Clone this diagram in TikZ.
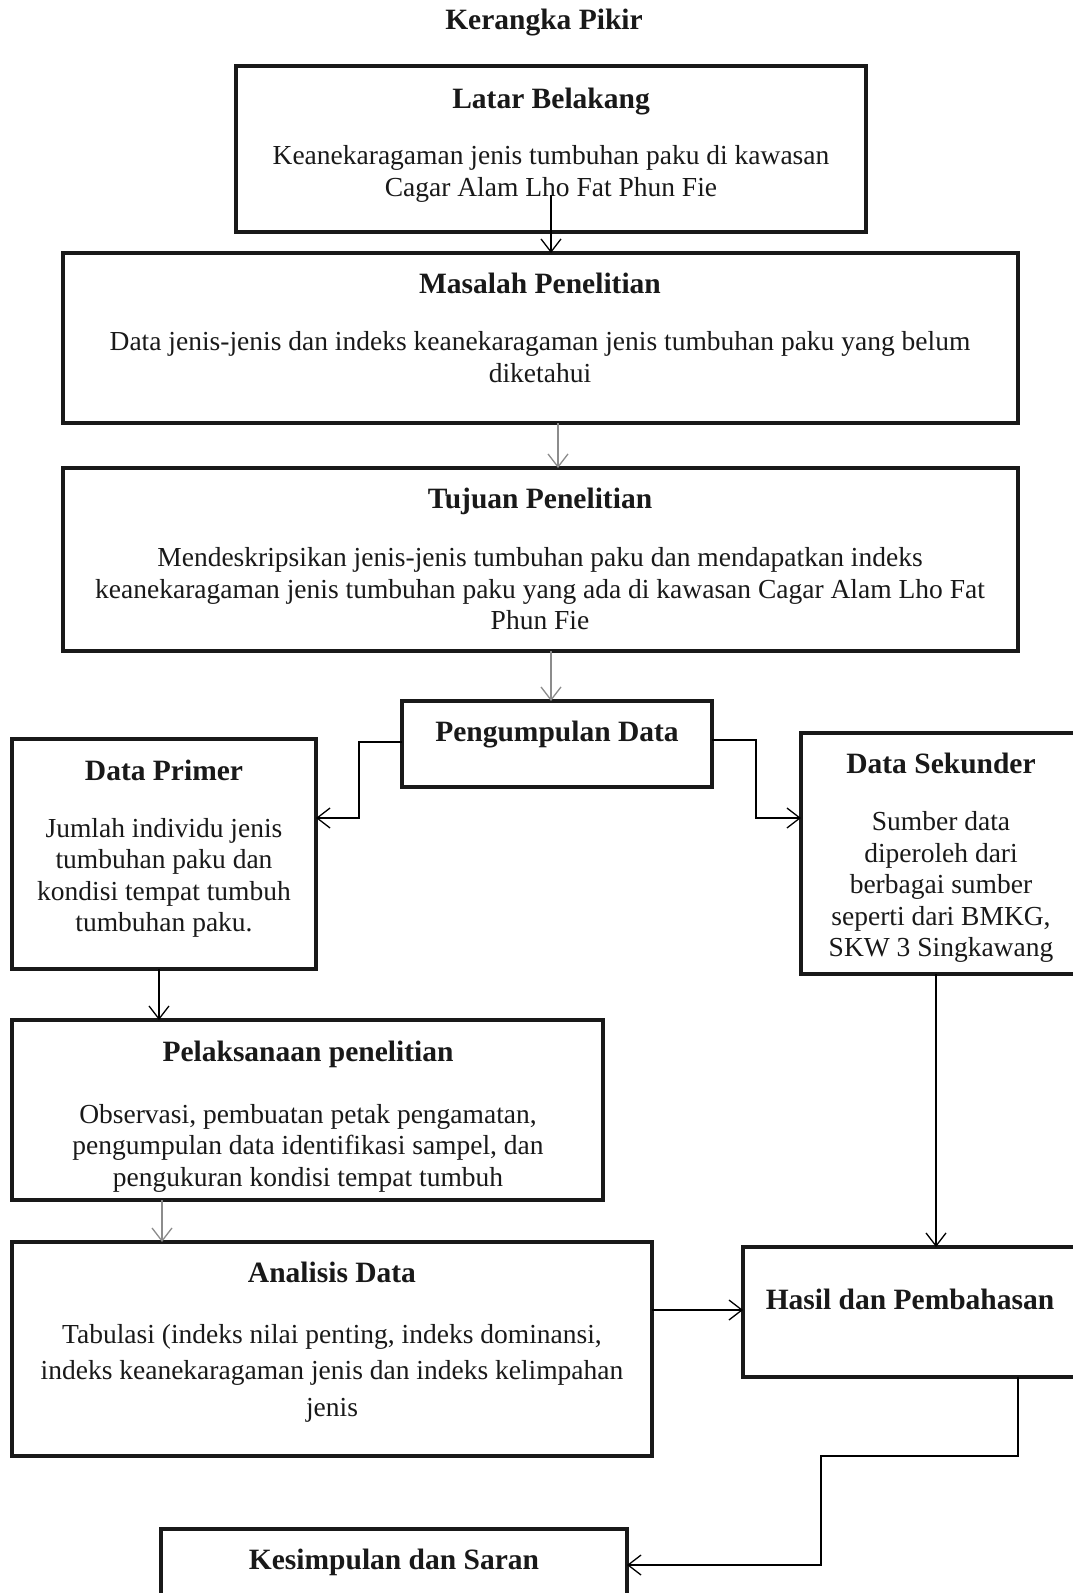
\documentclass[tikz,border=0pt]{standalone}
\usepackage{fontspec}
\setmainfont{Liberation Serif}
\usetikzlibrary{arrows.meta}
\tikzset{
  box/.style={draw=black!90, line width=4pt, rectangle, anchor=north west, inner sep=0pt, outer sep=0pt},
  hd/.style={font=\fontsize{29.5}{33}\selectfont\bfseries, inner sep=0pt, text=black!90},
  bd/.style={font=\fontsize{27.5}{31.5}\selectfont, inner sep=0pt, align=center, text=black!90},
  arr/.style={line width=1.3pt, -{Straight Barb[length=13pt,width=20pt,line width=1.3pt]}},
  garr/.style={arr, draw=black!45},
}
\begin{document}
\begin{tikzpicture}[x=1pt,y=-1pt]
\useasboundingbox (0,0) rectangle (1073,1593);
\clip (0,0) rectangle (1073,1593);
\fill[white] (0,0) rectangle (1073,1593);

\node[hd] (title) at (544,23) {Kerangka Pikir};

% boxes
\node[box, minimum width=630, minimum height=166] (latar) at (236,66) {};
\node[box, minimum width=955, minimum height=170] (masalah) at (63,253) {};
\node[box, minimum width=955, minimum height=183] (tujuan) at (63,468) {};
\node[box, minimum width=310, minimum height=86] (peng) at (402,701) {};
\node[box, minimum width=304, minimum height=230] (primer) at (12,739) {};
\node[box, minimum width=282, minimum height=241] (sekunder) at (801,733) {};
\node[box, minimum width=591, minimum height=180] (pelaks) at (12,1020) {};
\node[box, minimum width=640, minimum height=214] (analisis) at (12,1242) {};
\node[box, minimum width=336, minimum height=130] (hasil) at (743,1247) {};
\node[box, minimum width=466, minimum height=100] (kesimp) at (161,1529) {};

% texts
\node[hd] (latarH) at (551,102) {Latar Belakang};
\node[bd] (latarB) at (551,174) {Keanekaragaman jenis tumbuhan paku di kawasan\\Cagar Alam Lho Fat Phun Fie};

\node[hd] (masalahH) at (540,283) {Masalah Penelitian};
\node[bd] (masalahB) at (540,357) {Data jenis-jenis dan indeks keanekaragaman jenis tumbuhan paku yang belum\\diketahui};

\node[hd] (tujuanH) at (540,501) {Tujuan Penelitian};
\node[bd] (tujuanB) at (540,589) {Mendeskripsikan jenis-jenis tumbuhan paku dan mendapatkan indeks\\keanekaragaman jenis tumbuhan paku yang ada di kawasan Cagar Alam Lho Fat\\Phun Fie};

\node[hd] (pengH) at (557,735) {Pengumpulan Data};

\node[hd] (primerH) at (164,770) {Data Primer};
\node[bd] (primerB) at (164,878) {Jumlah individu jenis\\tumbuhan paku dan\\kondisi tempat tumbuh\\tumbuhan paku.};

\node[hd] (sekunderH) at (941,763) {Data Sekunder};
\node[bd] (sekunderB) at (941,887) {Sumber data\\diperoleh dari\\berbagai sumber\\seperti dari BMKG,\\SKW 3 Singkawang};

\node[hd] (pelaksH) at (308,1054) {Pelaksanaan penelitian};
\node[bd] (pelaksB) at (308,1148) {Observasi, pembuatan petak pengamatan,\\pengumpulan data identifikasi sampel, dan\\pengukuran kondisi tempat tumbuh};

\node[hd] (analisisH) at (332,1272) {Analisis Data};
\node[bd, font=\fontsize{27.5}{36.5}\selectfont] (analisisB) at (332,1373) {Tabulasi (indeks nilai penting, indeks dominansi,\\indeks keanekaragaman jenis dan indeks kelimpahan\\jenis};

\node[hd] (hasilH) at (910,1299) {Hasil dan Pembahasan};

\node[hd] (kesimpH) at (394,1562) {Kesimpulan dan Saran};

% connectors
\coordinate (latarIn) at (551,195);
\draw[arr] (latarIn) -- (latarIn |- masalah.north);
\draw[garr] (masalah.south -| 558,0) -- (tujuan.north -| 558,0);
\draw[garr] (tujuan.south -| 551,0) -- (peng.north -| 551,0);
\draw[arr] (peng.west |- 0,742) -- (359,742) -- (359,818) -- (primer.east |- 0,818);
\draw[arr] (peng.east |- 0,740) -- (756,740) -- (756,818) -- (sekunder.west |- 0,818);
\draw[arr] (primer.south -| 159,0) -- (pelaks.north -| 159,0);
\draw[arr] (sekunder.south -| 936,0) -- (hasil.north -| 936,0);
\draw[garr] (pelaks.south -| 162,0) -- (analisis.north -| 162,0);
\draw[arr] (analisis.east |- 0,1310) -- (hasil.west |- 0,1310);
\draw[arr] (hasil.south -| 1018,0) -- (1018,1456) -- (821,1456) -- (821,1565) -- (kesimp.east |- 0,1565);
\end{tikzpicture}
\end{document}
